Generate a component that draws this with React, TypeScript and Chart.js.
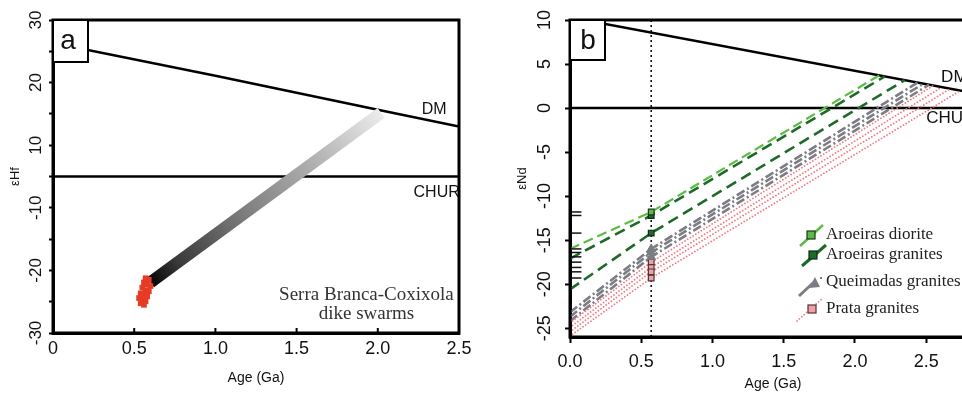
import React, { useEffect, useRef } from 'react';
import { Chart, registerables } from 'chart.js';
Chart.register(...registerables);

const SANS = '"Liberation Sans", Arial, sans-serif';
const SERIF = '"Liberation Serif", "Times New Roman", serif';

// ---------- Panel a (εHf) ----------
const ageTicksA = [0, 0.5, 1, 1.5, 2, 2.5];
const ageTickLabelsA = ['0', '0.5', '1.0', '1.5', '2.0', '2.5'];
const hfTickValues = [-30, -24, -18, -12, -6, 0, 6, 12, 18, 24, 30];
const hfTickLabels = ['-30', '', '-20', '', '-10', '', '10', '', '20', '', '30'];
const dmAgeA = [0, 1, 2, 2.5];
const dmHf = [25.6, 19.3, 12.8, 9.6];
const churAgeA = [0, 2.5];
const churHf = [0, 0];
const bandAge = [0.6, 2.02];
const bandHf = [-20.3, 12.2];
const dikeAge = [0.57, 0.59, 0.56, 0.58, 0.6, 0.55, 0.57, 0.59, 0.54, 0.56, 0.58, 0.53, 0.55, 0.57, 0.54, 0.56];
const dikeHf = [-19.5, -19.8, -20.3, -20.7, -21.0, -21.3, -21.8, -22.0, -22.4, -22.8, -23.0, -23.3, -23.7, -23.9, -24.3, -24.6];

// ---------- Panel b (εNd) ----------
const ageTicksB = [0, 0.5, 1, 1.5, 2, 2.5];
const ageTickLabelsB = ['0.0', '0.5', '1.0', '1.5', '2.0', '2.5'];
const ndTicks = [-25, -20, -15, -10, -5, 0, 5, 10];
const dmAgeB = [0, 2.85];
const dmNd = [10.3, 1.65];
const churAgeB = [0, 2.85];
const churNd = [0, 0];
const crystAge = 0.57;
const vLineNd = [-26, 10];

const dioriteStart = [-16.0];
const dioriteAtT = [-11.8];
const dioriteEndAge = [2.17];
const dioriteEndNd = [3.71];

const aroGraniteStart = [-17.1, -20.6];
const aroGraniteAtT = [-12.2, -14.2];
const aroGraniteEndAge = [2.21, 2.35];
const aroGraniteEndNd = [3.59, 3.17];

const queimStart = [-23.2, -23.7, -24.2];
const queimAtT = [-16.0, -16.4, -16.9];
const queimEndAge = [2.44, 2.48, 2.52];
const queimEndNd = [2.9, 2.77, 2.65];

const prataStart = [-24.4, -24.9, -25.4, -25.9];
const prataAtT = [-17.5, -18.1, -18.6, -19.3];
const prataEndAge = [2.55, 2.61, 2.67, 2.74];
const prataEndNd = [2.56, 2.38, 2.2, 1.98];

const rugAge = 0.045;
const rugNd = [-11.8, -12.2, -14.2, -16.0, -16.4, -16.9, -17.5, -18.1, -18.6, -19.3];

const legendLabels = ['Aroeiras diorite', 'Aroeiras granites', 'Queimadas granites', 'Prata granites'];

const C_LG = '#5dbb45';
const C_DG = '#1f6a2a';
const C_GR = '#7c7c84';
const C_PK = '#f07a85';

function lineDS(xs: number[], ys: number[], color: any, width: number, dash: number[], order: number, cap: any = 'butt') {
  return {
    data: xs.map((x, i) => ({ x, y: ys[i] })),
    showLine: true,
    borderColor: color,
    borderWidth: width,
    borderDash: dash,
    borderCapStyle: cap,
    pointRadius: 0,
    pointHoverRadius: 0,
    fill: false,
    tension: 0,
    order,
  };
}

function evoLines(start: number[], atT: number[], endAge: number[], endNd: number[], color: string, width: number, dash: number[], cap: any = 'butt') {
  return start.map((s, i) =>
    lineDS([0, crystAge, endAge[i]], [s, atT[i], endNd[i]], color, width, dash, 1, cap)
  );
}

function markerDS(ys: number[], style: string, r: number, fill: string, border: string, bw: number) {
  return {
    data: ys.map((y) => ({ x: crystAge, y })),
    showLine: false,
    pointStyle: style,
    pointRadius: r,
    pointHoverRadius: r,
    backgroundColor: fill,
    borderColor: border,
    borderWidth: bw,
    order: 0,
  };
}

function txt(ctx: CanvasRenderingContext2D, s: string, x: number, y: number, font: string, align: CanvasTextAlign = 'left', color = '#111') {
  ctx.save();
  ctx.font = font;
  ctx.fillStyle = color;
  ctx.textAlign = align;
  ctx.textBaseline = 'middle';
  ctx.fillText(s, x, y);
  ctx.restore();
}

const decorA = {
  id: 'decorA',
  afterDatasetsDraw(chart: any) {
    const { ctx, chartArea: ca, scales } = chart;
    const x = scales.x, y = scales.y;
    ctx.save();
    ctx.strokeStyle = '#000';
    ctx.lineWidth = 3;
    ctx.strokeRect(ca.left, ca.top, ca.right - ca.left, ca.bottom - ca.top);
    // inward x ticks
    ctx.lineWidth = 2;
    ctx.beginPath();
    x.ticks.forEach((t: any) => {
      const px = x.getPixelForValue(t.value);
      ctx.moveTo(px, ca.bottom);
      ctx.lineTo(px, ca.bottom - 5);
    });
    ctx.stroke();
    // panel letter box
    ctx.fillStyle = '#fff';
    ctx.fillRect(ca.left, ca.top, 35, 42);
    ctx.lineWidth = 2;
    ctx.strokeRect(ca.left, ca.top, 35, 42);
    ctx.restore();
    txt(ctx, 'a', ca.left + 15, ca.top + 21, `28px ${SANS}`, 'center', '#111');
    txt(ctx, 'DM', x.getPixelForValue(2.27), y.getPixelForValue(12.9), `16px ${SANS}`, 'left');
    txt(ctx, 'CHUR', x.getPixelForValue(2.22), y.getPixelForValue(0) + 16, `16px ${SANS}`, 'left');
    txt(ctx, 'Serra Branca-Coxixola', x.getPixelForValue(1.93), y.getPixelForValue(-22.7), `19px ${SERIF}`, 'center', '#333');
    txt(ctx, 'dike swarms', x.getPixelForValue(1.93), y.getPixelForValue(-26.4), `19px ${SERIF}`, 'center', '#333');
  },
};

const OFFB = 480;
const decorB = {
  id: 'decorB',
  afterDatasetsDraw(chart: any) {
    const { ctx, chartArea: ca, scales } = chart;
    const x = scales.x, y = scales.y;
    ctx.save();
    ctx.strokeStyle = '#000';
    ctx.lineWidth = 3;
    ctx.strokeRect(ca.left, ca.top, ca.right - ca.left, ca.bottom - ca.top);
    ctx.fillStyle = '#fff';
    ctx.fillRect(ca.left, ca.top, 35, 40);
    ctx.lineWidth = 2;
    ctx.strokeRect(ca.left, ca.top, 35, 40);
    ctx.restore();
    txt(ctx, 'b', ca.left + 18, ca.top + 21, `28px ${SANS}`, 'center', '#111');
    txt(ctx, 'DM', x.getPixelForValue(2.605), y.getPixelForValue(3.5), `17px ${SANS}`, 'left');
    txt(ctx, 'CHUR', x.getPixelForValue(2.5), y.getPixelForValue(-1.15), `17px ${SANS}`, 'left');

    // legend
    const L = (px: number) => px - OFFB;
    const seg = (x0: number, y0: number, x1: number, y1: number, color: string, w: number, dash: number[], cap: CanvasLineCap = 'butt') => {
      ctx.save();
      ctx.strokeStyle = color;
      ctx.lineWidth = w;
      ctx.setLineDash(dash);
      ctx.lineCap = cap;
      ctx.beginPath();
      ctx.moveTo(L(x0), y0);
      ctx.lineTo(L(x1), y1);
      ctx.stroke();
      ctx.restore();
    };
    const sq = (cx: number, cy: number, fill: string, border: string) => {
      ctx.save();
      ctx.fillStyle = fill;
      ctx.strokeStyle = border;
      ctx.lineWidth = 1.2;
      ctx.fillRect(L(cx) - 4, cy - 4, 8, 8);
      ctx.strokeRect(L(cx) - 4, cy - 4, 8, 8);
      ctx.restore();
    };
    seg(800, 246, 823, 225, C_LG, 2.5, []);
    sq(811, 235, C_LG, '#1a3a1a');
    seg(802, 266, 826, 245, C_DG, 3, []);
    sq(813, 255, C_DG, '#0d2d10');
    seg(799, 296, 813, 283, C_GR, 3, []);
    ctx.save();
    ctx.fillStyle = C_GR;
    ctx.beginPath();
    ctx.moveTo(L(815), 277);
    ctx.lineTo(L(820), 287);
    ctx.lineTo(L(809), 288);
    ctx.closePath();
    ctx.fill();
    ctx.fillRect(L(820), 277, 2, 2);
    ctx.restore();
    seg(797, 321, 823, 298, C_PK, 1.8, [0.01, 3.2], 'round');
    sq(812, 309, '#f0a0a8', '#553333');
    const f = `17px ${SERIF}`;
    txt(ctx, legendLabels[0], L(826), 235, f, 'left', '#222');
    txt(ctx, legendLabels[1], L(826), 255, f, 'left', '#222');
    txt(ctx, legendLabels[2], L(826), 282, f, 'left', '#222');
    txt(ctx, legendLabels[3], L(826), 309, f, 'left', '#222');
  },
};

function buildA(canvas: HTMLCanvasElement) {
  return new Chart(canvas, {
    type: 'scatter',
    data: {
      datasets: [
        {
          data: dikeAge.map((a, i) => ({ x: a, y: dikeHf[i] })),
          showLine: false,
          pointStyle: 'rect',
          pointRadius: 4,
          pointHoverRadius: 4,
          backgroundColor: '#e63b24',
          borderWidth: 0,
          order: 0,
        } as any,
        {
          ...lineDS(bandAge, bandHf, (c: any) => {
            const chart = c.chart;
            const { chartArea, scales } = chart;
            if (!chartArea) return '#666';
            const x0 = scales.x.getPixelForValue(bandAge[0]);
            const y0 = scales.y.getPixelForValue(bandHf[0]);
            const x1 = scales.x.getPixelForValue(bandAge[1]);
            const y1 = scales.y.getPixelForValue(bandHf[1]);
            const g = chart.ctx.createLinearGradient(x0, y0, x1, y1);
            g.addColorStop(0, '#050505');
            g.addColorStop(0.12, '#3a3a3a');
            g.addColorStop(0.4, '#7c7c7c');
            g.addColorStop(0.75, '#b8b8b8');
            g.addColorStop(1, '#ececec');
            return g;
          }, 12, [], 1),
        } as any,
        lineDS(dmAgeA, dmHf, '#000', 2.5, [], 2) as any,
        lineDS(churAgeA, churHf, '#000', 2.5, [], 2) as any,
      ],
    },
    options: {
      animation: false,
      responsive: false,
      maintainAspectRatio: false,
      events: [],
      layout: { padding: { top: 20, right: 21, left: 0, bottom: 0 } },
      plugins: { legend: { display: false }, tooltip: { enabled: false } },
      scales: {
        x: {
          type: 'linear',
          min: 0,
          max: 2.5,
          afterBuildTicks: (s: any) => { s.ticks = ageTicksA.map((v) => ({ value: v })); },
          afterFit: (s: any) => { s.height = 64; },
          ticks: {
            autoSkip: false,
            maxRotation: 0,
            padding: 5,
            color: '#111',
            font: { family: SANS, size: 18 },
            callback: (v: any) => { const i = ageTicksA.indexOf(v); return i >= 0 ? ageTickLabelsA[i] : ''; },
          },
          grid: { drawOnChartArea: false, drawTicks: false, tickLength: 0, color: '#000' },
          border: { display: true, width: 3, color: '#000' },
          title: { display: true, text: 'Age (Ga)', color: '#111', font: { family: SANS, size: 14 }, padding: { top: 0, bottom: 10 } },
        },
        y: {
          type: 'linear',
          min: -30,
          max: 30,
          afterBuildTicks: (s: any) => { s.ticks = hfTickValues.map((v) => ({ value: v })); },
          afterFit: (s: any) => { s.width = 53; },
          ticks: {
            autoSkip: false,
            minRotation: 90,
            maxRotation: 90,
            crossAlign: 'center',
            padding: 0,
            color: '#111',
            font: { family: SANS, size: 17 },
            callback: (v: any) => { const i = hfTickValues.indexOf(v); return i >= 0 ? hfTickLabels[i] : ''; },
          },
          grid: { drawOnChartArea: false, drawTicks: true, tickLength: 4, color: '#000', tickWidth: 2 },
          border: { display: true, width: 3, color: '#000' },
          title: { display: true, text: 'εHf', color: '#111', font: { family: SANS, size: 13 }, padding: { top: 8, bottom: 0 } },
        },
      },
    } as any,
    plugins: [decorA],
  });
}

function buildB(canvas: HTMLCanvasElement) {
  const datasets: any[] = [
    markerDS(dioriteAtT, 'rect', 4, C_LG, '#1a3a1a', 1.2),
    markerDS(aroGraniteAtT, 'rect', 4, C_DG, '#0d2d10', 1.2),
    markerDS(queimAtT, 'triangle', 5, C_GR, C_GR, 1),
    markerDS(prataAtT, 'rect', 4, '#f0a0a8', '#553333', 1.2),
    {
      data: rugNd.map((y) => ({ x: rugAge, y })),
      showLine: false,
      pointStyle: 'line',
      pointRadius: 5,
      pointHoverRadius: 5,
      borderColor: '#111',
      borderWidth: 1.5,
      order: 0,
    },
    ...evoLines(prataStart, prataAtT, prataEndAge, prataEndNd, C_PK, 1.8, [0.01, 3.2], 'round'),
    ...evoLines(queimStart, queimAtT, queimEndAge, queimEndNd, C_GR, 2.6, [9, 3, 2, 3]),
    ...evoLines(aroGraniteStart, aroGraniteAtT, aroGraniteEndAge, aroGraniteEndNd, C_DG, 2.6, [11, 6]),
    ...evoLines(dioriteStart, dioriteAtT, dioriteEndAge, dioriteEndNd, C_LG, 2.2, [10, 5]),
    lineDS([crystAge, crystAge], vLineNd, '#111', 1.6, [2, 3], 2),
    lineDS(dmAgeB, dmNd, '#000', 2.5, [], 2),
    lineDS(churAgeB, churNd, '#000', 2.5, [], 2),
  ];
  return new Chart(canvas, {
    type: 'scatter',
    data: { datasets },
    options: {
      animation: false,
      responsive: false,
      maintainAspectRatio: false,
      events: [],
      layout: { padding: { top: 20, right: 24, left: 0, bottom: 0 } },
      plugins: { legend: { display: false }, tooltip: { enabled: false } },
      scales: {
        x: {
          type: 'linear',
          min: 0,
          max: 2.85,
          afterBuildTicks: (s: any) => { s.ticks = ageTicksB.map((v) => ({ value: v })); },
          afterFit: (s: any) => { s.height = 60; },
          ticks: {
            autoSkip: false,
            maxRotation: 0,
            padding: 8,
            color: '#111',
            font: { family: SANS, size: 18 },
            callback: (v: any) => { const i = ageTicksB.indexOf(v); return i >= 0 ? ageTickLabelsB[i] : ''; },
          },
          grid: { drawOnChartArea: false, drawTicks: true, tickLength: 6, color: '#000', tickWidth: 2 },
          border: { display: true, width: 3, color: '#000' },
          title: { display: true, text: 'Age (Ga)', color: '#111', font: { family: SANS, size: 14 }, padding: { top: 0, bottom: 4 } },
        },
        y: {
          type: 'linear',
          min: -26,
          max: 10,
          afterBuildTicks: (s: any) => { s.ticks = ndTicks.map((v) => ({ value: v })); },
          afterFit: (s: any) => { s.width = 90; },
          ticks: {
            autoSkip: false,
            minRotation: 90,
            maxRotation: 90,
            crossAlign: 'center',
            padding: 7,
            color: '#111',
            font: { family: SANS, size: 18 },
          },
          grid: { drawOnChartArea: false, drawTicks: true, tickLength: 5, color: '#000', tickWidth: 2 },
          border: { display: true, width: 3, color: '#000' },
          title: { display: true, text: 'εNd', color: '#111', font: { family: SANS, size: 13 }, padding: { top: 35, bottom: 0 } },
        },
      },
    } as any,
    plugins: [decorB],
  });
}

export default function App() {
  const refA = useRef<HTMLCanvasElement>(null);
  const refB = useRef<HTMLCanvasElement>(null);
  useEffect(() => {
    const a = buildA(refA.current!);
    const b = buildB(refB.current!);
    return () => { a.destroy(); b.destroy(); };
  }, []);
  return (
    <div style={{ position: 'fixed', left: 0, top: 0, width: 962, height: 397, overflow: 'hidden', background: '#fff' }}>
      <canvas ref={refA} width={480} height={397} style={{ position: 'absolute', left: 0, top: 0, width: 480, height: 397 }} />
      <canvas ref={refB} width={520} height={397} style={{ position: 'absolute', left: OFFB, top: 0, width: 520, height: 397 }} />
    </div>
  );
}
